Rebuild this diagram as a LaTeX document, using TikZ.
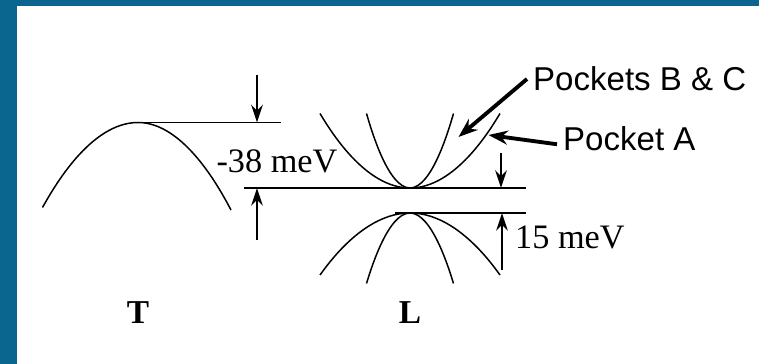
\documentclass[tikz,border=0pt]{standalone}
\usepackage{fontspec}
\setmainfont{Liberation Serif}
\newfontfamily\labelsans{Liberation Sans}
\usepackage{xcolor}
\definecolor{frameblue}{RGB}{10,102,143}
\usetikzlibrary{arrows.meta}

\begin{document}
\begin{tikzpicture}[
    band/.style={line width=0.85pt},
    gap/.style={-{Stealth[length=10pt,width=6.5pt]}, line width=1.6pt},
    pointer/.style={-{Stealth[length=11pt,width=8pt]}, line width=2.2pt},
    val/.style={font=\fontsize{19.5}{22}\selectfont},
    pocket/.style={font=\labelsans\fontsize{18.8}{21}\selectfont},
    point/.style={font=\bfseries\fontsize{19}{21}\selectfont}
  ]
  \useasboundingbox (0,0) rectangle (15.18,7.28);
  \fill[frameblue] (0,0) rectangle (0.34,7.28);
  \fill[frameblue] (0,7.16) rectangle (15.18,7.28);

  % T band
  \coordinate (Ttop) at (2.76,4.83);
  \coordinate (Tedge) at (5.62,4.83);
  \draw[band] (0.85,3.13) parabola bend (Ttop) (4.62,3.08);
  \draw[band] (Ttop) -- (Tedge);

  % L bands
  \coordinate (Lcb) at (8.2,3.52);
  \coordinate (Lvb) at (8.2,3.02);
  \coordinate (cbL) at (4.88,3.52);
  \coordinate (cbR) at (10.52,3.52);
  \coordinate (vbL) at (7.9,3.02);
  \coordinate (vbR) at (10.52,3.02);
  \foreach \w in {1.8,0.87}
    \draw[band] ({8.2-\w},5.01) parabola bend (Lcb) ({8.2+\w},5.01);
  \foreach \w/\y in {1.8/1.78,0.87/1.61}
    \draw[band] ({8.2-\w},\y) parabola bend (Lvb) ({8.2+\w},\y);
  \draw[band] (cbL) -- (cbR);
  \draw[band] (vbL) -- (vbR);

  % gaps
  \coordinate (a1) at (5.14,5.78);
  \coordinate (a2) at (5.14,2.48);
  \coordinate (a3) at (10.02,4.22);
  \coordinate (a4) at (10.04,1.88);
  \draw[gap] (a1) -- (a1 |- Ttop);
  \draw[gap] (a2) -- (a2 |- Lcb);
  \draw[gap] (a3) -- (a3 |- Lcb);
  \draw[gap] (a4) -- (a4 |- Lvb);
  \node[val] (dT) at (5.54,4.06) {-38 meV};
  \node[val, anchor=west] (dL) at (10.18,2.54) {15 meV};

  % pockets
  \node[pocket, anchor=west] (pBC) at (10.54,5.7) {Pockets B \& C};
  \node[pocket, anchor=west] (pA) at (11.14,4.5) {Pocket A};
  \coordinate (tipBC) at (9.17,4.54);
  \coordinate (tipA) at (9.77,4.58);
  \draw[pointer] (pBC.west) -- (tipBC);
  \draw[pointer] ([yshift=-3pt]pA.west) -- (tipA);

  \node[point] (T) at (2.76,1.02) {T};
  \node[point] (L) at (8.2,1.02) {L};
\end{tikzpicture}
\end{document}
